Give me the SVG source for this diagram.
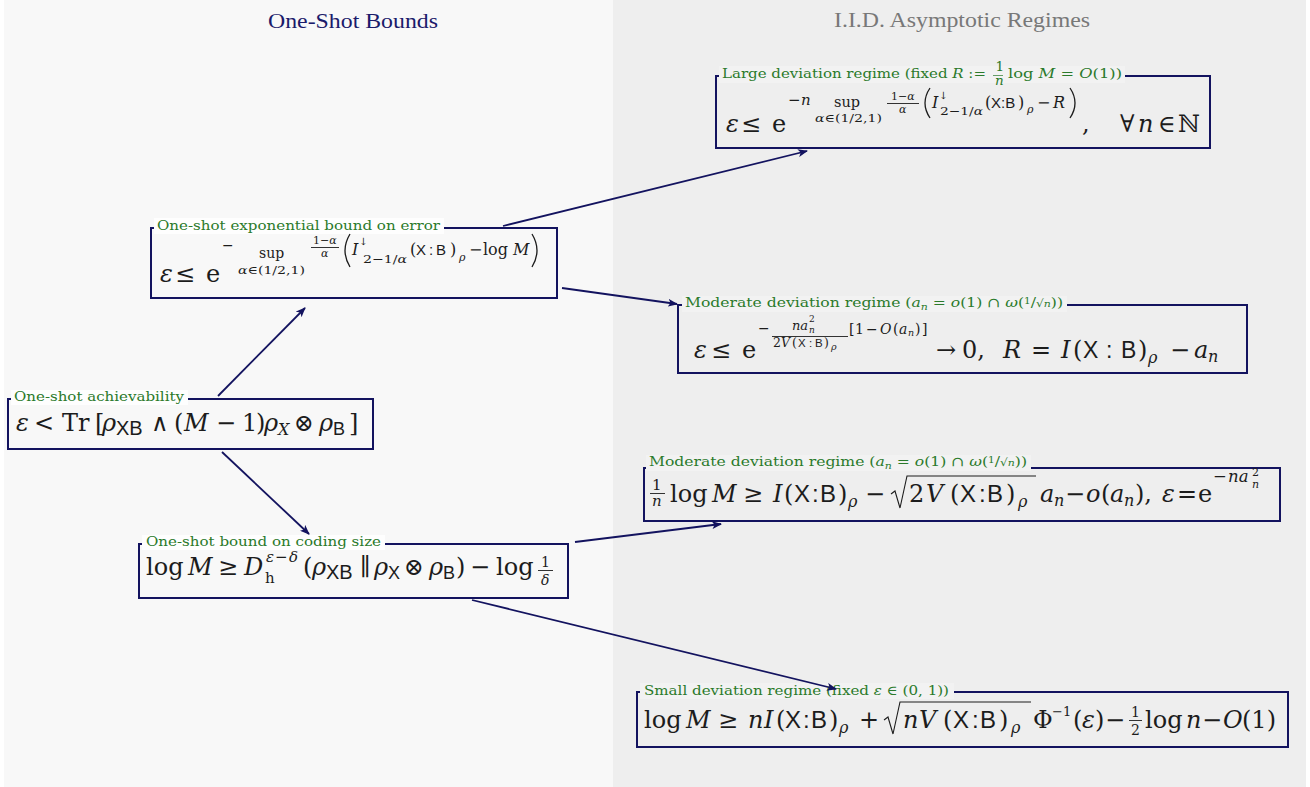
<svg xmlns="http://www.w3.org/2000/svg" width="1310" height="787" viewBox="0 0 1310 787">
<defs>
<style>
.box{fill:none;stroke:#13135f;stroke-width:2}
.bgL{fill:#fefefe}
.bgR{fill:#f2f2f2}
.lt{font-family:"DejaVu Serif","Liberation Serif",serif;font-size:13.5px;fill:#2b7a2b}
.f{font-family:"DejaVu Serif","Liberation Serif",serif;fill:#1c1c1c}
.i{font-style:italic}
.s{font-family:"Liberation Sans","DejaVu Sans",sans-serif;font-style:normal}
.fl{stroke:#1c1c1c;stroke-width:0.9}
.lfl{stroke:#2b7a2b;stroke-width:0.7}
.rad{fill:none;stroke:#1c1c1c;stroke-width:1.1}
.par{fill:none;stroke:#1c1c1c;stroke-width:1.3}
.edge{fill:none;stroke:#13135f;stroke-width:1.8}
.hd{font-family:"Liberation Serif","DejaVu Serif",serif;font-size:22px}
</style>
<marker id="ah" viewBox="0 0 10 8" refX="9" refY="4" markerWidth="10" markerHeight="8" markerUnits="userSpaceOnUse" orient="auto"><path d="M0,0 L10,4 L0,8 L2.5,4 z" fill="#13135f"/></marker>
<g id="mdlab">
<rect x="682" y="296" width="385" height="16" class="bgR"/>
<text class="lt" x="685" y="307" textLength="378" lengthAdjust="spacingAndGlyphs">Moderate deviation regime (<tspan class="i">a</tspan><tspan class="i" font-size="9.5" dy="2.5">n</tspan><tspan dy="-2.5"> = </tspan><tspan class="i">o</tspan>(1) ∩ <tspan class="i">ω</tspan>(<tspan font-size="9" dy="-3">1</tspan><tspan dy="3">/</tspan><tspan font-size="10.5">√</tspan><tspan class="i" font-size="9.5">n</tspan>))</text>
</g>
</defs>

<rect width="1310" height="787" fill="#ffffff"/>
<rect x="4" y="0" width="609" height="787" fill="#f8f8f8"/>
<rect x="613" y="0" width="693" height="787" fill="#eeeeee"/>

<text class="hd" x="268" y="28" textLength="170" lengthAdjust="spacingAndGlyphs" fill="#1b1b6b">One-Shot Bounds</text>
<text class="hd" x="834" y="27" textLength="256" lengthAdjust="spacingAndGlyphs" fill="#787878">I.I.D. Asymptotic Regimes</text>

<g id="node-large-deviation">
<rect x="716" y="76" width="494" height="72" class="box"/>
<rect x="719" y="66" width="406" height="17" class="bgR"/>
<text class="lt" x="722" y="78" textLength="264" lengthAdjust="spacingAndGlyphs">Large deviation regime (fixed <tspan class="i">R</tspan> :=</text>
<text class="lt" x="995.5" y="71" font-size="8">1</text>
<line class="lfl" x1="993" y1="75.5" x2="1003" y2="75.5"/>
<text class="lt i" x="995" y="85" font-size="8">n</text>
<text class="lt" x="1008" y="78" textLength="114" lengthAdjust="spacingAndGlyphs">log <tspan class="i">M</tspan> = <tspan class="i">O</tspan>(1))</text>
<text class="f" font-size="24" y="132"><tspan x="726" class="i">ε</tspan><tspan x="741">≤</tspan><tspan x="772">e</tspan></text>
<text class="f" font-size="15" y="105"><tspan x="788">−</tspan><tspan x="801" class="i">n</tspan></text>
<text class="f" font-size="14.5" x="834" y="107">sup</text>
<text class="f" font-size="11" x="815" y="122" textLength="67" lengthAdjust="spacingAndGlyphs"><tspan class="i">α</tspan>∈(1/2,1)</text>
<text class="f" font-size="11" x="891" y="100">1−<tspan class="i">α</tspan></text>
<line class="fl" x1="887" y1="103.5" x2="919" y2="103.5"/>
<text class="f i" font-size="11" x="899" y="113">α</text>
<path class="par" d="M930,88 Q920,103 930,118"/>
<text class="f i" font-size="16" x="932" y="108">I</text>
<text class="f" font-size="10" x="939" y="99">↓</text>
<text class="f" font-size="11" x="940" y="115" textLength="43" lengthAdjust="spacingAndGlyphs">2−1/<tspan class="i">α</tspan></text>
<text class="f" font-size="16" y="108"><tspan x="985">(</tspan><tspan x="991" class="s" font-size="15">X:B</tspan><tspan x="1018">)</tspan></text>
<text class="f i" font-size="11" x="1027" y="113">ρ</text>
<text class="f" font-size="16" y="108"><tspan x="1037">−</tspan><tspan x="1053" class="i">R</tspan></text>
<path class="par" d="M1070,88 Q1080,103 1070,118"/>
<text class="f" font-size="24" y="132"><tspan x="1082">,</tspan><tspan x="1120">∀</tspan><tspan x="1138" class="i">n</tspan><tspan x="1158">∈</tspan><tspan x="1178">ℕ</tspan></text>
</g>

<g id="node-exponential-bound">
<rect x="151" y="228" width="406" height="70" class="box"/>
<rect x="154" y="218" width="290" height="16" class="bgL"/>
<text class="lt" x="157" y="230" textLength="283" lengthAdjust="spacingAndGlyphs">One-shot exponential bound on error</text>
<text class="f" font-size="24" y="282"><tspan x="160" class="i">ε</tspan><tspan x="175">≤</tspan><tspan x="206">e</tspan></text>
<text class="f" font-size="14" x="222" y="250">−</text>
<text class="f" font-size="14" x="259" y="258">sup</text>
<text class="f" font-size="11" x="238" y="274" textLength="67" lengthAdjust="spacingAndGlyphs"><tspan class="i">α</tspan>∈(1/2,1)</text>
<text class="f" font-size="11" x="313" y="244">1−<tspan class="i">α</tspan></text>
<line class="fl" x1="311" y1="247.5" x2="339" y2="247.5"/>
<text class="f i" font-size="11" x="321" y="257">α</text>
<path class="par" d="M350,234 Q340,250.5 350,267"/>
<text class="f i" font-size="16" x="352" y="255">I</text>
<text class="f" font-size="10" x="359" y="245">↓</text>
<text class="f" font-size="11" x="363" y="263" textLength="44" lengthAdjust="spacingAndGlyphs">2−1/<tspan class="i">α</tspan></text>
<text class="f" font-size="16" y="255"><tspan x="410">(</tspan><tspan x="416" class="s" font-size="15">X</tspan><tspan x="429" class="s" font-size="15">:</tspan><tspan x="436" class="s" font-size="15">B</tspan><tspan x="450">)</tspan></text>
<text class="f i" font-size="11" x="459" y="261">ρ</text>
<text class="f" font-size="16" y="255"><tspan x="469">−</tspan><tspan x="483">log</tspan><tspan x="513" class="i">M</tspan></text>
<path class="par" d="M532,234 Q542,250.5 532,267"/>
</g>

<g id="node-moderate-deviation-error">
<rect x="678" y="305" width="569" height="68" class="box"/>
<use href="#mdlab"/>
<text class="f" font-size="24" y="358"><tspan x="694" class="i">ε</tspan><tspan x="711">≤</tspan><tspan x="742">e</tspan></text>
<text class="f" font-size="14" x="758" y="333">−</text>
<text class="f i" font-size="13" x="792" y="330">na</text>
<text class="f" font-size="9" x="809" y="322">2</text>
<text class="f i" font-size="9" x="809" y="333">n</text>
<line class="fl" x1="772" y1="336.5" x2="848" y2="336.5"/>
<text class="f" font-size="12.5" y="347"><tspan x="773">2</tspan><tspan x="781" class="i">V</tspan><tspan x="792">(</tspan><tspan x="798" class="s" font-size="11.5">X</tspan><tspan x="809" class="s" font-size="11.5">:</tspan><tspan x="815" class="s" font-size="11.5">B</tspan><tspan x="824">)</tspan><tspan x="831" y="350" class="i" font-size="9.5">ρ</tspan></text>
<text class="f" font-size="14" y="334"><tspan x="849">[</tspan><tspan x="855">1</tspan><tspan x="866">−</tspan><tspan x="880" class="i">O</tspan><tspan x="893">(</tspan><tspan x="899" class="i">a</tspan><tspan x="908" y="336" class="i" font-size="9.5">n</tspan><tspan x="915" y="334">)</tspan><tspan x="922">]</tspan></text>
<text class="f" font-size="24" y="358"><tspan x="936">→</tspan><tspan x="962">0,</tspan><tspan x="1003" class="i">R</tspan><tspan x="1031">=</tspan><tspan x="1061" class="i">I</tspan><tspan x="1073">(</tspan><tspan x="1083" class="s" font-size="23">X</tspan><tspan x="1106" class="s" font-size="23">:</tspan><tspan x="1121" class="s" font-size="23">B</tspan><tspan x="1138">)</tspan><tspan x="1148" y="363" class="i" font-size="16">ρ</tspan><tspan x="1170" y="358">−</tspan><tspan x="1194" class="i">a</tspan><tspan x="1208" y="362" class="i" font-size="16">n</tspan></text>
</g>

<g id="node-achievability">
<rect x="8" y="399" width="365" height="50" class="box"/>
<rect x="11" y="390" width="177" height="15" class="bgL"/>
<text class="lt" x="14" y="401" textLength="170" lengthAdjust="spacingAndGlyphs">One-shot achievability</text>
<text class="f" font-size="24" y="431"><tspan x="16" class="i">ε</tspan><tspan x="34">&lt;</tspan><tspan x="62">Tr</tspan><tspan x="95">[</tspan><tspan x="102" class="i">ρ</tspan><tspan x="116" y="435" class="s" font-size="20">XB</tspan><tspan x="151" y="431">∧</tspan><tspan x="174">(</tspan><tspan x="184" class="i">M</tspan><tspan x="216">−</tspan><tspan x="242">1</tspan><tspan x="256">)</tspan><tspan x="264" class="i">ρ</tspan><tspan x="278" y="435" class="i" font-size="16">X</tspan><tspan x="294" y="431">⊗</tspan><tspan x="319" class="i">ρ</tspan><tspan x="333" y="435" class="s" font-size="18">B</tspan><tspan x="349" y="431">]</tspan></text>
</g>

<g id="node-moderate-deviation-size">
<rect x="644" y="468" width="636" height="53" class="box"/>
<use href="#mdlab" transform="translate(-36,159)"/>
<text class="f" font-size="15" x="652" y="490">1</text>
<line class="fl" x1="650" y1="493.5" x2="665" y2="493.5"/>
<text class="f i" font-size="15" x="652" y="506">n</text>
<text class="f" font-size="24" y="502"><tspan x="670">log</tspan><tspan x="712" class="i">M</tspan><tspan x="743">≥</tspan><tspan x="773" class="i">I</tspan><tspan x="784">(</tspan><tspan x="794" class="s" font-size="24">X</tspan><tspan x="812" class="s" font-size="24">:</tspan><tspan x="820" class="s" font-size="24">B</tspan><tspan x="838">)</tspan><tspan x="848" y="507" class="i" font-size="16">ρ</tspan><tspan x="865" y="502">−</tspan></text>
<path class="rad" d="M891,494 L895,491 L900,508 L907,476 L1036,476"/>
<text class="f" font-size="24" y="502"><tspan x="909">2</tspan><tspan x="926" class="i">V</tspan><tspan x="950">(</tspan><tspan x="960" class="s" font-size="24">X</tspan><tspan x="979" class="s" font-size="24">:</tspan><tspan x="987" class="s" font-size="24">B</tspan><tspan x="1006">)</tspan><tspan x="1018" y="507" class="i" font-size="16">ρ</tspan><tspan x="1040" y="502" class="i">a</tspan><tspan x="1054" y="506" class="i" font-size="16">n</tspan><tspan x="1065" y="502">−</tspan><tspan x="1086" class="i">o</tspan><tspan x="1101">(</tspan><tspan x="1110" class="i">a</tspan><tspan x="1124" y="506" class="i" font-size="16">n</tspan><tspan x="1135" y="502">),</tspan><tspan x="1162" class="i">ε</tspan><tspan x="1177">=</tspan><tspan x="1198">e</tspan></text>
<text class="f" font-size="16.5" y="482"><tspan x="1213">−</tspan><tspan x="1228" class="i">na</tspan></text>
<text class="f" font-size="11" x="1252" y="476">2</text>
<text class="f i" font-size="11" x="1252" y="488">n</text>
</g>

<g id="node-coding-size">
<rect x="139" y="544" width="429" height="54" class="box"/>
<rect x="142" y="535" width="243" height="15" class="bgL"/>
<text class="lt" x="146" y="546" textLength="235" lengthAdjust="spacingAndGlyphs">One-shot bound on coding size</text>
<text class="f" font-size="24" y="575"><tspan x="146">log</tspan><tspan x="188" class="i">M</tspan><tspan x="218">≥</tspan><tspan x="244" class="i">D</tspan></text>
<text class="f" font-size="15" y="562"><tspan x="266" class="i">ε</tspan><tspan x="275">−</tspan><tspan x="289" class="i">δ</tspan></text>
<text class="f" font-size="15" x="265" y="583">h</text>
<text class="f" font-size="24" y="575"><tspan x="303">(</tspan><tspan x="312" class="i">ρ</tspan><tspan x="326" y="579" class="s" font-size="20">XB</tspan><tspan x="360" y="575">∥</tspan><tspan x="374" class="i">ρ</tspan><tspan x="388" y="579" class="s" font-size="18">X</tspan><tspan x="404" y="575">⊗</tspan><tspan x="429" class="i">ρ</tspan><tspan x="443" y="579" class="s" font-size="18">B</tspan><tspan x="456" y="575">)</tspan><tspan x="470">−</tspan><tspan x="496">log</tspan></text>
<text class="f" font-size="14" x="541" y="567">1</text>
<line class="fl" x1="538" y1="570.5" x2="553" y2="570.5"/>
<text class="f i" font-size="14" x="541" y="585">δ</text>
</g>

<g id="node-small-deviation">
<rect x="637" y="692" width="651" height="55" class="box"/>
<rect x="640" y="683" width="314" height="16" class="bgR"/>
<text class="lt" x="644" y="695" textLength="305" lengthAdjust="spacingAndGlyphs">Small deviation regime (fixed <tspan class="i">ε</tspan> ∈ (0, 1))</text>
<text class="f" font-size="24" y="728"><tspan x="644">log</tspan><tspan x="686" class="i">M</tspan><tspan x="718">≥</tspan><tspan x="748" class="i">n</tspan><tspan x="764" class="i">I</tspan><tspan x="776">(</tspan><tspan x="785" class="s" font-size="24">X</tspan><tspan x="803" class="s" font-size="24">:</tspan><tspan x="811" class="s" font-size="24">B</tspan><tspan x="829">)</tspan><tspan x="839" y="733" class="i" font-size="16">ρ</tspan><tspan x="859" y="728">+</tspan></text>
<path class="rad" d="M884,720 L888,717 L893,734 L900,702 L1031,702"/>
<text class="f" font-size="24" y="728"><tspan x="903" class="i">n</tspan><tspan x="919" class="i">V</tspan><tspan x="943">(</tspan><tspan x="953" class="s" font-size="24">X</tspan><tspan x="972" class="s" font-size="24">:</tspan><tspan x="980" class="s" font-size="24">B</tspan><tspan x="999">)</tspan><tspan x="1011" y="733" class="i" font-size="16">ρ</tspan><tspan x="1033" y="728">Φ</tspan></text>
<text class="f" font-size="13" x="1052" y="716">−1</text>
<text class="f" font-size="24" y="728"><tspan x="1073">(</tspan><tspan x="1082" class="i">ε</tspan><tspan x="1095">)</tspan><tspan x="1105">−</tspan><tspan x="1145">log</tspan><tspan x="1186" class="i">n</tspan><tspan x="1202">−</tspan><tspan x="1223" class="i">O</tspan><tspan x="1242">(1)</tspan></text>
<text class="f" font-size="14" x="1131" y="717">1</text>
<line class="fl" x1="1129" y1="720.5" x2="1142" y2="720.5"/>
<text class="f" font-size="14" x="1131" y="735">2</text>
</g>

<g id="connectors">
<line class="edge" x1="218" y1="396" x2="305" y2="308" marker-end="url(#ah)"/>
<line class="edge" x1="222" y1="452" x2="309" y2="534" marker-end="url(#ah)"/>
<line class="edge" x1="503" y1="226" x2="807" y2="151" marker-end="url(#ah)"/>
<line class="edge" x1="562" y1="288" x2="677" y2="304" marker-end="url(#ah)"/>
<line class="edge" x1="575" y1="542" x2="721" y2="524" marker-end="url(#ah)"/>
<line class="edge" x1="472" y1="600" x2="836" y2="689" marker-end="url(#ah)"/>
</g>
</svg>
